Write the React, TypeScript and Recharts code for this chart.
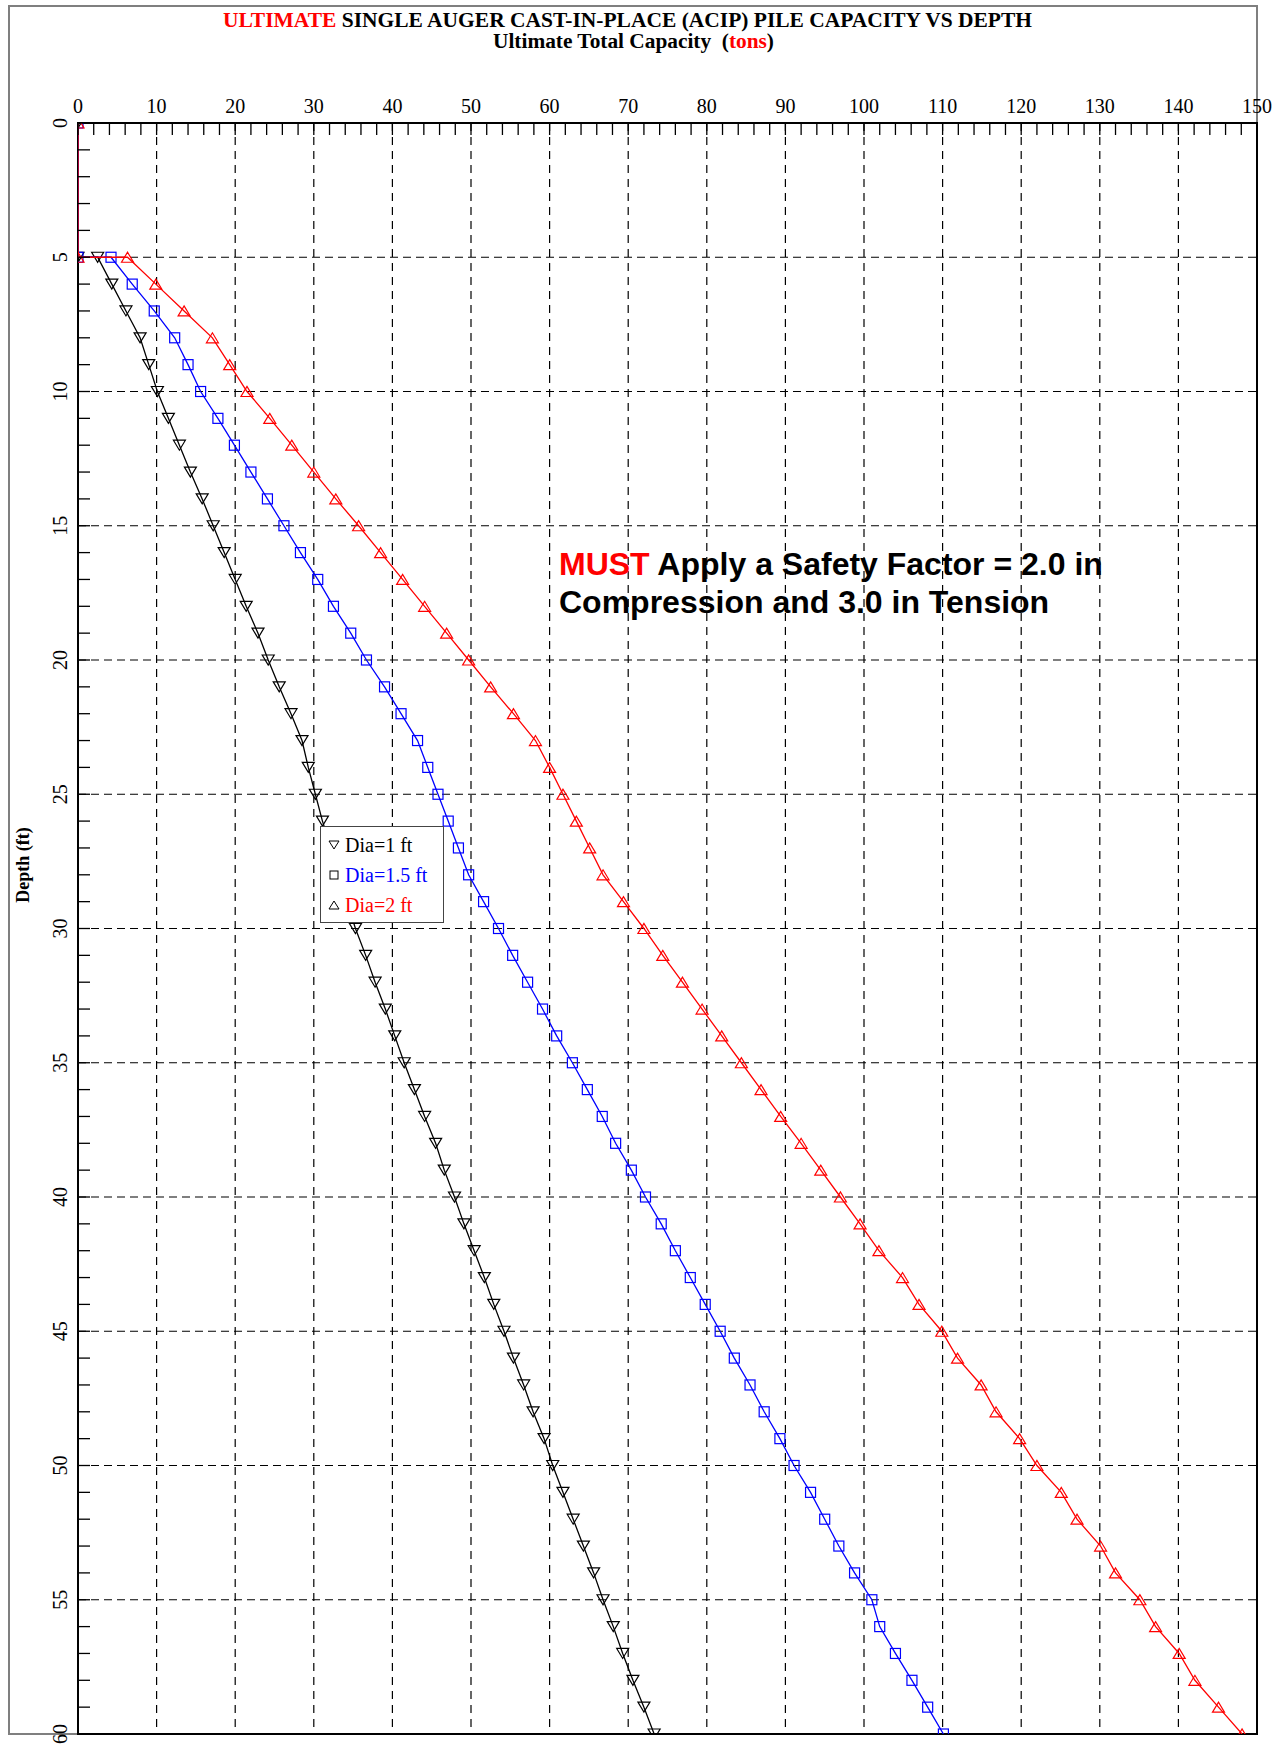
import React from 'react';
import { ScatterChart, Scatter, XAxis, YAxis, ReferenceLine, ReferenceArea, Legend } from 'recharts';

// Depth (ft) of each plotted point; the first two points lie on the 0-capacity axis
const depths = [0, 5, 5, 6, 7, 8, 9, 10, 11, 12, 13, 14, 15, 16, 17, 18, 19, 20, 21, 22, 23, 24, 25, 26, 27, 28, 29, 30,
  31, 32, 33, 34, 35, 36, 37, 38, 39, 40, 41, 42, 43, 44, 45, 46, 47, 48, 49, 50, 51, 52, 53, 54, 55, 56, 57, 58, 59, 60];

// Ultimate total capacity (tons)
const capDia1 = [0, 0, 2.5, 4.3, 6.1, 7.9, 9.0, 10.1, 11.5, 12.9, 14.3, 15.8, 17.2, 18.6, 20.0, 21.4, 22.9, 24.2,
  25.6, 27.1, 28.5, 29.3, 30.2, 31.1, 32.2, 33.2, 34.2, 35.3, 36.6, 37.8, 39.1, 40.3, 41.5, 42.8, 44.1, 45.5, 46.6,
  47.9, 49.1, 50.4, 51.7, 52.9, 54.2, 55.4, 56.7, 57.9, 59.3, 60.4, 61.7, 63.0, 64.3, 65.6, 66.8, 68.1, 69.3, 70.6, 72.0, 73.3];

const capDia15 = [0, 0, 4.2, 6.9, 9.7, 12.3, 14.0, 15.6, 17.8, 19.9, 22.0, 24.1, 26.2, 28.3, 30.5, 32.5, 34.7, 36.7,
  39.0, 41.1, 43.2, 44.5, 45.8, 47.1, 48.4, 49.7, 51.6, 53.5, 55.3, 57.2, 59.1, 60.9, 62.9, 64.8, 66.7, 68.4, 70.4,
  72.2, 74.2, 76.0, 77.9, 79.8, 81.7, 83.5, 85.5, 87.3, 89.3, 91.1, 93.2, 95.0, 96.8, 98.8, 101.0, 102.0, 104.0, 106.1, 108.1, 110.1];

const capDia2 = [0, 0, 6.3, 9.9, 13.5, 17.1, 19.3, 21.5, 24.4, 27.2, 30.0, 32.8, 35.7, 38.5, 41.3, 44.1, 46.9, 49.7,
  52.5, 55.4, 58.2, 60.0, 61.7, 63.4, 65.1, 66.8, 69.4, 72.0, 74.4, 76.9, 79.4, 81.9, 84.4, 86.9, 89.4, 92.0, 94.5,
  97.0, 99.5, 101.9, 104.9, 107.0, 109.9, 111.9, 114.9, 116.8, 119.8, 122.0, 125.1, 127.1, 130.1, 132.0, 135.1,
  137.1, 140.1, 142.1, 145.1, 148.1];

const seriesNames = ['Dia=1 ft', 'Dia=1.5 ft', 'Dia=2 ft'];
const seriesColors = ['#000000', '#0000ff', '#ff0000'];

const xTicks = [0, 2, 4, 6, 8, 10, 12, 14, 16, 18, 20, 22, 24, 26, 28, 30, 32, 34, 36, 38, 40, 42, 44, 46, 48, 50,
  52, 54, 56, 58, 60, 62, 64, 66, 68, 70, 72, 74, 76, 78, 80, 82, 84, 86, 88, 90, 92, 94, 96, 98, 100, 102, 104, 106,
  108, 110, 112, 114, 116, 118, 120, 122, 124, 126, 128, 130, 132, 134, 136, 138, 140, 142, 144, 146, 148, 150];
const yTicks = [0, 1, 2, 3, 4, 5, 6, 7, 8, 9, 10, 11, 12, 13, 14, 15, 16, 17, 18, 19, 20, 21, 22, 23, 24, 25, 26, 27,
  28, 29, 30, 31, 32, 33, 34, 35, 36, 37, 38, 39, 40, 41, 42, 43, 44, 45, 46, 47, 48, 49, 50, 51, 52, 53, 54, 55, 56,
  57, 58, 59, 60];
const xGrid = [10, 20, 30, 40, 50, 60, 70, 80, 90, 100, 110, 120, 130, 140];
const yGrid = [5, 10, 15, 20, 25, 30, 35, 40, 45, 50, 55];

const dataDia1 = depths.map((d, i) => ({ depth: d, cap: capDia1[i] }));
const dataDia15 = depths.map((d, i) => ({ depth: d, cap: capDia15[i] }));
const dataDia2 = depths.map((d, i) => ({ depth: d, cap: capDia2[i] }));

const SERIF = '"Liberation Serif", "Times New Roman", serif';
const SANS = '"Liberation Sans", Arial, sans-serif';

const downTri = (color: string) => (p: any) => {
  const { cx, cy } = p;
  if (cx == null || cy == null) return <g />;
  return <path d={`M${cx - 6},${cy - 5}L${cx + 6},${cy - 5}L${cx},${cy + 5}Z`} fill="none" stroke={color} strokeWidth={1.2} />;
};
const upTri = (color: string) => (p: any) => {
  const { cx, cy } = p;
  if (cx == null || cy == null) return <g />;
  return <path d={`M${cx - 6},${cy + 5}L${cx + 6},${cy + 5}L${cx},${cy - 5}Z`} fill="none" stroke={color} strokeWidth={1.2} />;
};
const square = (color: string) => (p: any) => {
  const { cx, cy } = p;
  if (cx == null || cy == null) return <g />;
  return <rect x={cx - 5} y={cy - 5} width={10} height={10} fill="none" stroke={color} strokeWidth={1.2} />;
};

const TopTick = (props: any) => {
  const { x, y, payload } = props;
  const v = payload.value;
  return (
    <g>
      <line x1={x} y1={y} x2={x} y2={y + 12} stroke="#000" strokeWidth={1.3} />
      {v % 10 === 0 && (
        <text x={x} y={y - 10} textAnchor="middle" fontFamily={SERIF} fontSize={20} fill="#000">{v}</text>
      )}
    </g>
  );
};

const LeftTick = (props: any) => {
  const { x, y, payload } = props;
  const v = payload.value;
  return (
    <g>
      <line x1={x} y1={y} x2={x + 12} y2={y} stroke="#000" strokeWidth={1.3} />
      {v % 5 === 0 && (
        <text transform={`translate(${x - 11},${y}) rotate(-90)`} textAnchor="middle" fontFamily={SERIF} fontSize={20} fill="#000">{v}</text>
      )}
    </g>
  );
};

const LegendMarker = ({ kind }: { kind: number }) => (
  <svg width={12} height={12} style={{ display: 'block' }}>
    {kind === 0 && <path d="M1,2L11,2L6,10Z" fill="none" stroke="#000" strokeWidth={1} />}
    {kind === 1 && <rect x={2} y={2} width={8} height={8} fill="none" stroke="#000" strokeWidth={1} />}
    {kind === 2 && <path d="M1,10L11,10L6,2Z" fill="none" stroke="#000" strokeWidth={1} />}
  </svg>
);

const renderLegend = () => (
  <div style={{
    width: 124, height: 97, boxSizing: 'border-box', border: '1.5px solid #444', background: '#fff',
    paddingTop: 3, fontFamily: SERIF, fontSize: 20,
  }}>
    {seriesNames.map((n, i) => (
      <div key={n} style={{ display: 'flex', alignItems: 'center', height: 30 }}>
        <div style={{ width: 7 }} />
        <LegendMarker kind={i} />
        <span style={{ marginLeft: 5, color: seriesColors[i], whiteSpace: 'nowrap', lineHeight: '30px' }}>{n}</span>
      </div>
    ))}
  </div>
);

export default function App() {
  return (
    <div style={{ position: 'absolute', left: 0, top: 0, width: 1284, height: 1745, background: '#fff' }}>
      <div style={{ position: 'absolute', left: 8, top: 5, width: 1250, height: 1730, border: '2px solid #7f7f7f', boxSizing: 'border-box' }} />
      <div style={{ position: 'absolute', left: 0, top: 0 }}>
        <ScatterChart width={1284} height={1745} margin={{ top: 93, left: 38, right: 27, bottom: 11 }}>
          <XAxis
            type="number" dataKey="cap" orientation="top" domain={[0, 150]} ticks={xTicks} interval={0}
            height={30} tickSize={0} tickMargin={0} tick={TopTick} tickLine={false} allowDataOverflow
            axisLine={{ stroke: '#000', strokeWidth: 1.5 }}
          />
          <YAxis
            type="number" dataKey="depth" reversed domain={[0, 60]} ticks={yTicks} interval={0}
            width={40} tickSize={0} tickMargin={0} tick={LeftTick} tickLine={false} allowDataOverflow
            axisLine={{ stroke: '#000', strokeWidth: 1.5 }}
          />
          {xGrid.map((v) => (
            <ReferenceLine key={'x' + v} x={v} stroke="#000" strokeWidth={1.2} strokeDasharray="8 6" />
          ))}
          {yGrid.map((v) => (
            <ReferenceLine key={'y' + v} y={v} stroke="#000" strokeWidth={1.2} strokeDasharray="8 5" />
          ))}
          <ReferenceArea x1={0} x2={150} y1={0} y2={60} fill="none" fillOpacity={0} stroke="#000" strokeWidth={2} />
          <Scatter name={seriesNames[0]} data={dataDia1} isAnimationActive={false}
            line={{ stroke: seriesColors[0], strokeWidth: 1.3 }} shape={downTri(seriesColors[0])} />
          <Scatter name={seriesNames[1]} data={dataDia15} isAnimationActive={false}
            line={{ stroke: seriesColors[1], strokeWidth: 1.3 }} shape={square(seriesColors[1])} />
          <Scatter name={seriesNames[2]} data={dataDia2} isAnimationActive={false}
            line={{ stroke: seriesColors[2], strokeWidth: 1.3 }} shape={upTri(seriesColors[2])} />
          <Legend content={renderLegend} layout="vertical" align="center" verticalAlign="middle"
            wrapperStyle={{ left: 320, top: 826, width: 124, height: 97 }} />
        </ScatterChart>
      </div>
      <svg width={1284} height={1745} style={{ position: 'absolute', left: 0, top: 0, pointerEvents: 'none' }}>
        <text x={627.5} y={26.5} textAnchor="middle" fontFamily={SERIF} fontWeight="bold" fontSize={20}
          textLength={809} lengthAdjust="spacingAndGlyphs">
          <tspan fill="#ff0000">ULTIMATE</tspan>
          <tspan fill="#000"> SINGLE AUGER CAST-IN-PLACE (ACIP) PILE CAPACITY VS DEPTH</tspan>
        </text>
        <text x={633.5} y={48} textAnchor="middle" fontFamily={SERIF} fontWeight="bold" fontSize={20}
          textLength={281} lengthAdjust="spacingAndGlyphs" style={{ whiteSpace: 'pre' }}>
          <tspan fill="#000">{'Ultimate Total Capacity  ('}</tspan>
          <tspan fill="#ff0000">tons</tspan>
          <tspan fill="#000">)</tspan>
        </text>
        <text transform="translate(29,865) rotate(-90)" textAnchor="middle" fontFamily={SERIF} fontWeight="bold" fontSize={18} fill="#000">Depth (ft)</text>
        <text x={559} y={575} fontFamily={SANS} fontWeight="bold" fontSize={32}>
          <tspan fill="#ff0000">MUST</tspan>
          <tspan fill="#000"> Apply a Safety Factor = 2.0 in</tspan>
        </text>
        <text x={559} y={613} fontFamily={SANS} fontWeight="bold" fontSize={32} fill="#000">Compression and 3.0 in Tension</text>
      </svg>
    </div>
  );
}
